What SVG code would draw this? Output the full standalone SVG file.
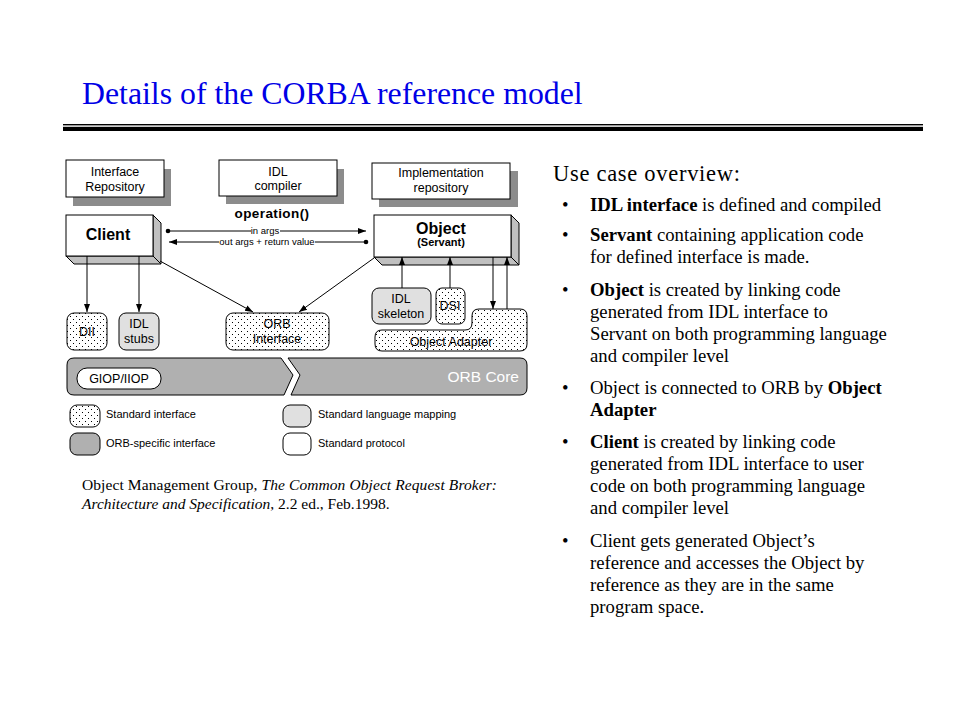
<svg xmlns="http://www.w3.org/2000/svg" width="960" height="720" viewBox="0 0 960 720">
<defs>
<pattern id="dots" width="6" height="6" patternUnits="userSpaceOnUse">
<rect width="6" height="6" fill="#fff"/>
<rect x="1" y="1" width="1" height="1" fill="#000"/>
<rect x="4" y="4" width="1" height="1" fill="#000"/>
</pattern>
<marker id="arr" viewBox="0 0 8 8" refX="8" refY="4" markerWidth="8" markerHeight="8" markerUnits="userSpaceOnUse" orient="auto">
<path d="M0,1 L8,4 L0,7 Z" fill="#000"/>
</marker>
<marker id="dot" viewBox="0 0 6 6" refX="3" refY="3" markerWidth="6" markerHeight="6" markerUnits="userSpaceOnUse" orient="auto">
<circle cx="3" cy="3" r="2.3" fill="#000"/>
</marker>
</defs>
<style>
.box{fill:#fff;stroke:#000;stroke-width:1}
.shadow{fill:#8c8c8c}
.side{fill:#c0c0c0;stroke:#000;stroke-width:1;stroke-linejoin:round}
.dotted{fill:url(#dots);stroke:#000;stroke-width:1}
.lgray{fill:#e0e0e0;stroke:#000;stroke-width:1}
.dgray{fill:#b0b0b0;stroke:#000;stroke-width:1}
.wbox{fill:#fff;stroke:#000;stroke-width:1}
.t{font-family:"Liberation Sans",Arial,sans-serif;font-size:12.5px;fill:#000;text-anchor:middle}
.tl{font-family:"Liberation Sans",Arial,sans-serif;font-size:11px;fill:#000}
.sm{font-family:"Liberation Sans",Arial,sans-serif;font-size:9.5px;fill:#000;text-anchor:middle}
.ln{stroke:#000;stroke-width:1;fill:none}
.serif{font-family:"Liberation Serif","Times New Roman",serif;fill:#000}
.rt{font-family:"Liberation Serif","Times New Roman",serif;font-size:18.7px;fill:#000}
</style>
<rect width="960" height="720" fill="#fff"/>

<g id="title">
<text x="82" y="104" font-family="Liberation Serif, Times New Roman, serif" font-size="31.8" fill="#0000e6">Details of the CORBA reference model</text>
<rect x="63" y="124" width="860" height="1" fill="#000"/>
<rect x="63" y="125" width="860" height="1.5" fill="#999"/>
<rect x="63" y="127" width="860" height="4" fill="#000"/>
</g>

<g id="interface-repository">
<rect class="shadow" x="73" y="169" width="98" height="37"/>
<rect class="box" x="66" y="160" width="98" height="37"/>
<text class="t" x="115" y="176">Interface</text>
<text class="t" x="115" y="191">Repository</text>
</g>

<g id="idl-compiler">
<rect class="shadow" x="226" y="169" width="118" height="35"/>
<rect class="box" x="219" y="160" width="118" height="36"/>
<text class="t" x="278" y="176">IDL</text>
<text class="t" x="278" y="190">compiler</text>
</g>

<g id="implementation-repository">
<rect class="shadow" x="379" y="171" width="139" height="36"/>
<rect class="box" x="372" y="163" width="138" height="36"/>
<text class="t" x="441" y="177">Implementation</text>
<text class="t" x="441" y="192">repository</text>
</g>

<g id="operation-label">
<text x="272" y="218" font-family="Liberation Sans, Arial, sans-serif" font-size="13.5" font-weight="bold" text-anchor="middle" letter-spacing="0.4">operation()</text>
</g>

<g id="client">
<polygon class="side" points="153,215 161,223 161,264 153,256"/>
<polygon class="side" points="66,256 153,256 161,264 74,264"/>
<rect class="box" x="66" y="215" width="87" height="41"/>
<text x="108" y="240" font-family="Liberation Sans, Arial, sans-serif" font-size="16" font-weight="bold" text-anchor="middle">Client</text>
</g>

<g id="object">
<polygon class="side" points="511,215 519,223 519,265 511,257"/>
<polygon class="side" points="374,257 511,257 519,265 382,265"/>
<rect class="box" x="374" y="215" width="137" height="42"/>
<text x="441" y="234" font-family="Liberation Sans, Arial, sans-serif" font-size="16" font-weight="bold" text-anchor="middle">Object</text>
<text x="441" y="246" font-family="Liberation Sans, Arial, sans-serif" font-size="11" font-weight="bold" text-anchor="middle">(Servant)</text>
</g>

<g id="dii">
<rect class="dotted" x="67" y="313" width="40" height="37" rx="7"/>
<text class="t" x="87" y="336">DII</text>
</g>

<g id="idl-stubs">
<rect class="lgray" x="119" y="313" width="40" height="37" rx="7"/>
<text class="t" x="139" y="328">IDL</text>
<text class="t" x="139" y="343">stubs</text>
</g>

<g id="orb-interface">
<rect class="dotted" x="226" y="313" width="103" height="37" rx="7"/>
<text class="t" x="277" y="328">ORB</text>
<text class="t" x="277" y="343">Interface</text>
</g>

<g id="idl-skeleton">
<rect class="lgray" x="372" y="288" width="59" height="36" rx="7"/>
<text class="t" x="401" y="303">IDL</text>
<text class="t" x="401" y="318">skeleton</text>
</g>

<g id="dsi">
<rect class="dotted" x="436" y="288" width="29" height="36" rx="6"/>
<text class="t" x="450" y="310">DSI</text>
</g>

<g id="object-adapter">
<path class="dotted" d="M382,330 H465 Q472,330 472,323 V316 Q472,309 479,309 H520 Q527,309 527,316 V344 Q527,351 520,351 H382 Q375,351 375,344 V337 Q375,330 382,330 Z"/>
<text class="t" x="451" y="346">Object Adapter</text>
</g>

<g id="orb-core">
<path class="dgray" d="M74,358 H281 L293,375 L284,395 H74 Q67,395 67,388 V365 Q67,358 74,358 Z"/>
<path class="dgray" d="M288,358 H520 Q527,358 527,365 V388 Q527,395 520,395 H291 L300,375 Z"/>
<rect class="wbox" x="77" y="368" width="84" height="21" rx="10"/>
<text class="t" x="119" y="383">GIOP/IIOP</text>
<text x="519" y="382" font-family="Liberation Sans, Arial, sans-serif" font-size="15.5" fill="#fff" text-anchor="end">ORB Core</text>
</g>

<g id="connectors">
<line class="ln" x1="168" y1="231" x2="251" y2="231" marker-start="url(#dot)"/>
<line class="ln" x1="280" y1="231" x2="366" y2="231" marker-end="url(#arr)"/>
<text class="sm" x="265" y="234">in args</text>
<line class="ln" x1="366" y1="242" x2="315" y2="242" marker-start="url(#dot)"/>
<line class="ln" x1="219" y1="242" x2="169" y2="242" marker-end="url(#arr)"/>
<text class="sm" x="267" y="245">out args + return value</text>
<line class="ln" x1="87" y1="256" x2="87" y2="312" marker-end="url(#arr)"/>
<line class="ln" x1="139" y1="256" x2="139" y2="312" marker-end="url(#arr)"/>
<line class="ln" x1="160" y1="261" x2="253" y2="312" marker-end="url(#arr)"/>
<line class="ln" x1="374" y1="258" x2="299" y2="312" marker-end="url(#arr)"/>
<line class="ln" x1="402" y1="288" x2="402" y2="257" marker-end="url(#arr)"/>
<line class="ln" x1="450" y1="288" x2="450" y2="257" marker-end="url(#arr)"/>
<line class="ln" x1="493" y1="257" x2="493" y2="309" marker-end="url(#arr)"/>
<line class="ln" x1="507" y1="309" x2="507" y2="257" marker-end="url(#arr)"/>
</g>

<g id="legend">
<rect class="dotted" x="70" y="405" width="30" height="22" rx="7"/>
<text class="tl" x="106" y="418">Standard interface</text>
<rect class="dgray" x="70" y="433" width="30" height="22" rx="7"/>
<text class="tl" x="106" y="447">ORB-specific interface</text>
<rect class="lgray" x="283" y="405" width="28" height="22" rx="7"/>
<text class="tl" x="318" y="418">Standard language mapping</text>
<rect class="wbox" x="283" y="433" width="28" height="22" rx="7"/>
<text class="tl" x="318" y="447">Standard protocol</text>
</g>

<g id="citation">
<text class="serif" x="82" y="490" font-size="15.5" textLength="415" lengthAdjust="spacing">Object Management Group, <tspan font-style="italic">The Common Object Request Broker:</tspan></text>
<text class="serif" x="82" y="509" font-size="15.5"><tspan font-style="italic">Architecture  and Specification</tspan><tspan>,  2.2 ed., Feb.1998.</tspan></text>
</g>

<g id="use-case-text">
<text class="serif" x="553" y="181" font-size="22.5" textLength="187" lengthAdjust="spacing">Use case overview:</text>
<g class="rt">
<text x="562" y="211">•</text>
<text x="590" y="211"><tspan font-weight="bold">IDL interface</tspan> is defined and compiled</text>
<text x="562" y="241">•</text>
<text x="590" y="241"><tspan font-weight="bold">Servant</tspan> containing application code</text>
<text x="590" y="263">for defined interface is made.</text>
<text x="562" y="296">•</text>
<text x="590" y="296"><tspan font-weight="bold">Object</tspan> is created by linking code</text>
<text x="590" y="318">generated from IDL interface to</text>
<text x="590" y="340">Servant on both programming language</text>
<text x="590" y="362">and compiler level</text>
<text x="562" y="394">•</text>
<text x="590" y="394">Object is connected to ORB by <tspan font-weight="bold">Object</tspan></text>
<text x="590" y="416" font-weight="bold">Adapter</text>
<text x="562" y="448">•</text>
<text x="590" y="448"><tspan font-weight="bold">Client</tspan> is created by linking code</text>
<text x="590" y="470">generated from IDL interface to user</text>
<text x="590" y="492">code on both programming language</text>
<text x="590" y="514">and compiler level</text>
<text x="562" y="547">•</text>
<text x="590" y="547">Client gets generated Object’s</text>
<text x="590" y="569">reference and accesses the Object by</text>
<text x="590" y="591">reference as they are in the same</text>
<text x="590" y="613">program space.</text>
</g>
</g>
</svg>
